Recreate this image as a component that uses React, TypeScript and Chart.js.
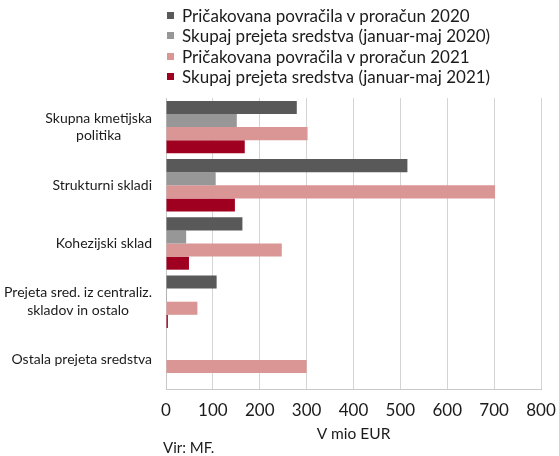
import React, { useEffect, useRef } from "react";
import { Chart, registerables } from "chart.js";

Chart.register(...registerables);

const categories: string[][] = [
  ["Skupna kmetijska", "politika"],
  ["Strukturni skladi"],
  ["Kohezijski sklad"],
  ["Prejeta sred. iz centraliz.", "skladov in ostalo"],
  ["Ostala prejeta sredstva"],
];

const seriesNames = [
  "Pričakovana povračila v proračun 2020",
  "Skupaj prejeta sredstva (januar-maj 2020)",
  "Pričakovana povračila v proračun 2021",
  "Skupaj prejeta sredstva (januar-maj 2021)",
];

const planned2020 = [279, 515, 163, 108, 0];
const received2020 = [151, 106, 43, 2, 0];
const planned2021 = [302, 702, 247, 67, 300];
const received2021 = [168, 147, 49, 4, 0];

const seriesColors = ["#595959", "#979797", "#DA9694", "#A0001F"];

const xMin = 0;
const xMax = 800;
const xStep = 100;

const axisTitle = "V mio EUR";
const sourceNote = "Vir: MF.";

const FONT = "Lato, 'Open Sans', sans-serif";
const TEXT = "#1b1b1b";

const yLabelPlugin = {
  id: "yLabelsCentered",
  afterDraw(chart: any) {
    const { ctx, scales } = chart;
    const y = scales.y;
    ctx.save();
    ctx.font = `14px ${FONT}`;
    ctx.fillStyle = TEXT;
    ctx.textBaseline = "middle";
    ctx.textAlign = "center";
    const lh = 17.5;
    const right = chart.chartArea.left - 14;
    categories.forEach((lines, i) => {
      const cy = y.getPixelForValue(i);
      const widest = Math.max(...lines.map((l) => ctx.measureText(l).width));
      const cx = right - widest / 2;
      lines.forEach((l, j) => {
        ctx.fillText(l, cx, cy + (j - (lines.length - 1) / 2) * lh);
      });
    });
    ctx.restore();
  },
};

export default function App() {
  const canvasRef = useRef<HTMLCanvasElement | null>(null);

  useEffect(() => {
    document.body.style.margin = "0";
    const canvas = canvasRef.current;
    if (!canvas) return;
    const seriesData = [planned2020, received2020, planned2021, received2021];
    const chart = new Chart(canvas, {
      type: "bar",
      data: {
        labels: categories.map((c) => c.join(" ")),
        datasets: seriesNames.map((name, i) => ({
          label: name,
          data: seriesData[i],
          backgroundColor: seriesColors[i],
          borderWidth: 0,
          categoryPercentage: 0.9,
          barPercentage: 1.0,
        })),
      },
      options: {
        indexAxis: "y",
        responsive: false,
        animation: false,
        devicePixelRatio: 1,
        layout: { padding: { top: 98, right: 18, left: 0, bottom: 0 } },
        plugins: {
          legend: { display: false },
          tooltip: { enabled: false },
        },
        scales: {
          y: {
            grid: { display: false, drawTicks: false },
            border: { display: true, color: "#c8c8c8", width: 1 },
            ticks: { display: false },
            afterFit(scale: any) {
              scale.width = 166;
            },
          },
          x: {
            min: xMin,
            max: xMax,
            grid: { color: "#d4d4d4", lineWidth: 1, drawTicks: false },
            border: { display: true, color: "#c8c8c8", width: 1 },
            ticks: {
              stepSize: xStep,
              padding: 11,
              color: TEXT,
              font: { family: FONT, size: 17 },
            },
            title: {
              display: true,
              text: axisTitle,
              color: TEXT,
              font: { family: FONT, size: 15.5 },
              padding: { top: 0, bottom: 13 },
            },
            afterFit(scale: any) {
              scale.height = 456 - 389;
              scale.paddingRight = 0;
              scale.paddingLeft = 0;
            },
          },
        },
      },
      plugins: [yLabelPlugin],
    });
    return () => chart.destroy();
  }, []);

  return (
    <div style={{ position: "relative", width: 559, height: 456, fontFamily: FONT, color: TEXT }}>
      <canvas ref={canvasRef} width={559} height={456} style={{ position: "absolute", left: 0, top: 0 }} />
      <div style={{ position: "absolute", left: 167, top: 5 }}>
        {seriesNames.map((name, i) => (
          <div key={name} style={{ display: "flex", alignItems: "center", height: 20.5, fontSize: 17, whiteSpace: "nowrap" }}>
            <span style={{ display: "inline-block", width: 7, height: 7, background: seriesColors[i], marginRight: 8 }} />
            <span>{name}</span>
          </div>
        ))}
      </div>
      <div style={{ position: "absolute", left: 163, top: 438, fontSize: 15 }}>{sourceNote}</div>
    </div>
  );
}
